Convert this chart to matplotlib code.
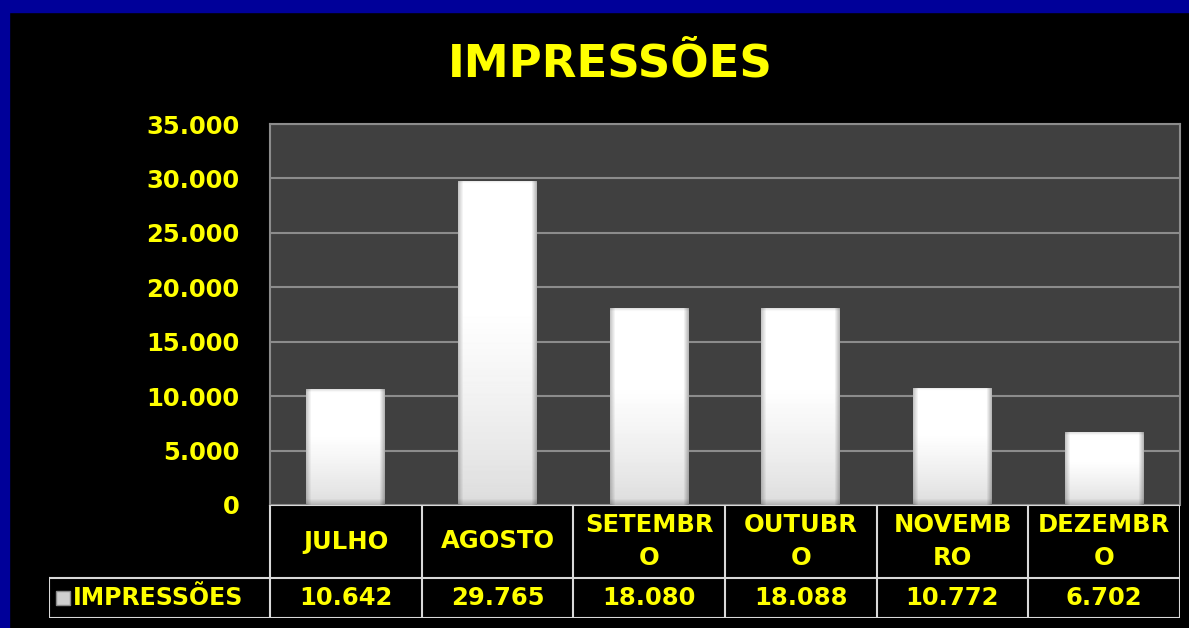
import numpy as np
import matplotlib.pyplot as plt
from matplotlib.patches import Rectangle
from matplotlib.ticker import FuncFormatter

# dados
meses = ["JULHO", "AGOSTO", "SETEMBR\nO", "OUTUBR\nO", "NOVEMB\nRO", "DEZEMBR\nO"]
impressoes = [10642, 29765, 18080, 18088, 10772, 6702]
serie = "IMPRESSÕES"
titulo = "IMPRESSÕES"
yticks = [0, 5000, 10000, 15000, 20000, 25000, 30000, 35000]

AMARELO = "#ffff00"
plt.rcParams["font.family"] = "DejaVu Sans"
plt.rcParams["font.weight"] = "bold"


def milhar(v, pos=None):
    return f"{int(round(v)):,}".replace(",", ".")


def bisel(wpx, hpx):
    # textura da barra: branco em cima, cinza claro embaixo, bordas chanfradas
    xs = np.arange(wpx)[None, :]
    ys = np.arange(hpx)[:, None]  # 0 = base
    base = 0.86 + 0.14 * np.clip(ys / max(hpx * 0.6, 1), 0, 1) ** 0.8
    img = np.ones((hpx, wpx)) * base
    esq = np.clip(xs / 5.0, 0, 1)
    dir_ = np.clip((wpx - 1 - xs) / 5.0, 0, 1)
    bot = np.clip(ys / 6.0, 0, 1)
    top = np.clip((hpx - 1 - ys) / 2.5, 0, 1)
    img = img * (0.78 + 0.22 * esq) * (0.72 + 0.28 * dir_)
    img = img * (0.82 + 0.18 * bot) * (0.88 + 0.12 * top)
    return np.clip(img, 0, 1)


W, H = 1189, 628
fig = plt.figure(figsize=(W / 100, H / 100), dpi=100, facecolor="black")
# moldura azul do slide
fig.patches.append(Rectangle((0, 1 - 12 / H), 1, 12 / H, transform=fig.transFigure,
                             color="#000099", zorder=0))
fig.patches.append(Rectangle((0, 0), 9 / W, 1, transform=fig.transFigure,
                             color="#000099", zorder=0))

fig.text(610 / W, 1 - 64 / H, titulo, ha="center", va="center",
         fontsize=32.5, fontweight="bold", color=AMARELO)

# grafico de barras
ax = fig.add_axes([270 / W, 1 - 505 / H, 910 / W, 381 / H])
ax.set_facecolor("#404040")
x = np.arange(len(meses))
bars = ax.bar(x, impressoes, width=0.52, color="#e6e6e6", zorder=2)

px_x = 910 / len(meses)
px_y = 381 / 35000
for b in bars:
    x0, w, h = b.get_x(), b.get_width(), b.get_height()
    tex = bisel(int(round(w * px_x)), int(round(h * px_y)))
    im = ax.imshow(tex, extent=(x0, x0 + w, 0, h), origin="lower", aspect="auto",
                   cmap="gray", vmin=0, vmax=1, zorder=3, interpolation="bilinear")
    im.set_clip_path(b)

ax.set_xlim(-0.5, len(meses) - 0.5)
ax.set_ylim(0, 35000)
ax.set_yticks(yticks)
ax.yaxis.set_major_formatter(FuncFormatter(milhar))
ax.set_xticks([])
ax.yaxis.grid(True, color="#8c8c8c", lw=1.5)
ax.set_axisbelow(True)
ax.tick_params(axis="y", length=0, pad=22, labelsize=17.5, labelcolor=AMARELO)
for lab in ax.get_yticklabels():
    lab.set_fontweight("bold")
for s in ["left", "top", "right"]:
    ax.spines[s].set_color("#8c8c8c")
    ax.spines[s].set_linewidth(1.5)
ax.spines["bottom"].set_visible(False)

# tabela de dados
unit = 910 / len(meses)
esq = -0.5 - 221 / unit
tab = fig.add_axes([49 / W, 1 - 618 / H, (1180 - 49) / W, 113 / H])
tab.set_xlim(esq, len(meses) - 0.5)
tab.set_ylim(0, 113)
tab.axis("off")
lc = dict(color="#d9d9d9", lw=1.5)
tab.plot([-0.5, len(meses) - 0.5], [113, 113], **lc)
tab.plot([esq, len(meses) - 0.5], [40, 40], **lc)
tab.plot([esq, len(meses) - 0.5], [0.5, 0.5], **lc)
tab.plot([esq, esq], [0.5, 40], **lc)
for i in range(len(meses) + 1):
    tab.plot([i - 0.5, i - 0.5], [0.5, 113], **lc)
for i, (m, val) in enumerate(zip(meses, impressoes)):
    tab.text(i, 76.5, m, ha="center", va="center", fontsize=17.5,
             fontweight="bold", color=AMARELO, linespacing=1.5)
    tab.text(i, 20, milhar(val), ha="center", va="center", fontsize=17.5,
             fontweight="bold", color=AMARELO)
tab.plot([esq + 14 / unit], [20], marker="s", ms=10, mfc="#cfcfcf", mec="#8a8a8a")
tab.text(esq + 24 / unit, 20, serie, ha="left", va="center", fontsize=17,
         fontweight="bold", color=AMARELO)

fig.savefig("out.png", dpi=100, facecolor=fig.get_facecolor())
